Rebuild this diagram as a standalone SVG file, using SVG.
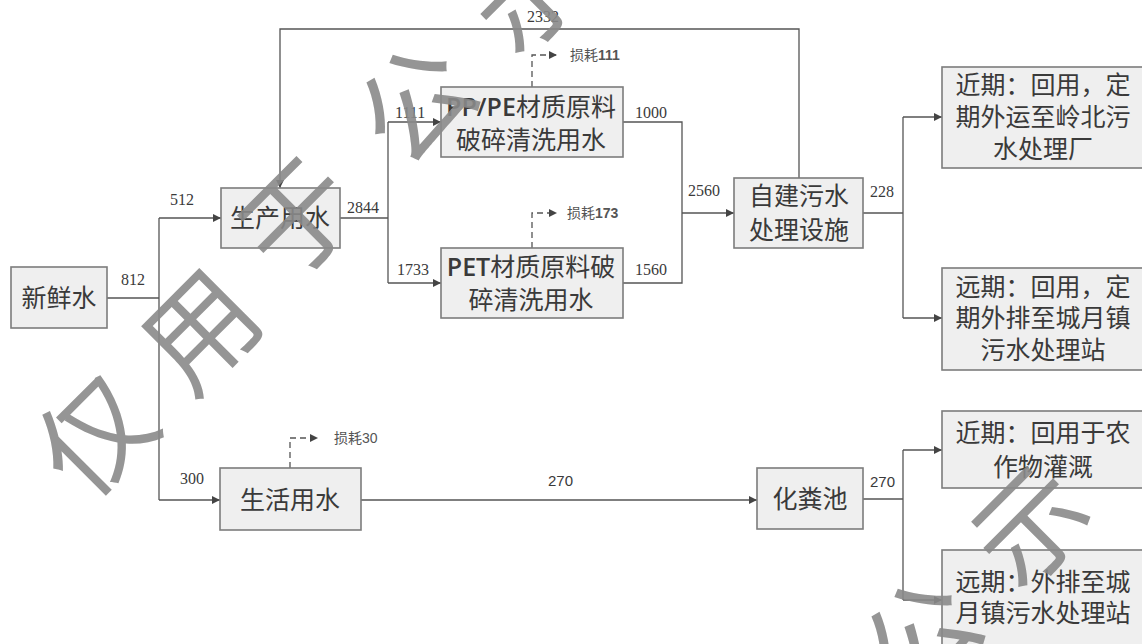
<svg xmlns="http://www.w3.org/2000/svg" width="1142" height="644" viewBox="0 0 1142 644">
<defs>
<style>
.box{fill:#efefef;stroke:#7c7c7c;stroke-width:1.6}
.t{font-family:"Liberation Serif","Noto Sans CJK SC",serif;font-size:25px;fill:#3a3a3a;text-anchor:middle}
.lat{font-family:"Open Sans","Liberation Sans",sans-serif;font-weight:600}
.n{font-family:"Liberation Serif",serif;font-size:16px;fill:#3a3a3a}
.ns{font-family:"Liberation Sans",sans-serif;font-size:15px;fill:#3a3a3a}
.loss{font-family:"Noto Sans CJK SC",sans-serif;font-size:14px;fill:#555}
.c{fill:none;stroke:#555;stroke-width:1.3}
.d{fill:none;stroke:#555;stroke-width:1.3;stroke-dasharray:6 4}
.wm{font-family:"Noto Sans CJK SC",sans-serif;font-size:112px;fill:#8a8a8a;fill-opacity:0.9;text-anchor:middle;dominant-baseline:central}
</style>
<marker id="ah" viewBox="0 0 10 10" refX="10" refY="5" markerWidth="9" markerHeight="8" markerUnits="userSpaceOnUse" orient="auto">
<path d="M0,0 L10,5 L0,10 z" fill="#444"/>
</marker>
</defs>
<rect width="1142" height="644" fill="#ffffff"/>

<g id="connectors">
<path class="c" d="M107,298 H159"/>
<path class="c" d="M159,218 V500"/>
<path class="c" d="M159,218 H221" marker-end="url(#ah)"/>
<path class="c" d="M159,500 H220" marker-end="url(#ah)"/>
<path class="c" d="M340,218 H388"/>
<path class="c" d="M388,122 V283"/>
<path class="c" d="M388,122 H441" marker-end="url(#ah)"/>
<path class="c" d="M388,283 H441" marker-end="url(#ah)"/>
<path class="c" d="M623,122 H682 V283 H623"/>
<path class="c" d="M682,213 H734" marker-end="url(#ah)"/>
<path class="c" d="M799,178 V29 H280 V188" marker-end="url(#ah)"/>
<path class="c" d="M863,213 H903"/>
<path class="c" d="M903,117 V318"/>
<path class="c" d="M903,117 H942" marker-end="url(#ah)"/>
<path class="c" d="M903,318 H942" marker-end="url(#ah)"/>
<path class="c" d="M361,500 H757" marker-end="url(#ah)"/>
<path class="c" d="M863,499 H903"/>
<path class="c" d="M903,450 V600"/>
<path class="c" d="M903,450 H942" marker-end="url(#ah)"/>
<path class="c" d="M903,600 H942" marker-end="url(#ah)"/>
<path class="d" d="M532,87 V55 H557" marker-end="url(#ah)"/>
<path class="d" d="M532,248 V213 H557" marker-end="url(#ah)"/>
<path class="d" d="M290,468 V438 H318" marker-end="url(#ah)"/>
<text class="n" x="121" y="285">812</text>
<text class="n" x="170" y="205">512</text>
<text class="n" x="527" y="22">2332</text>
<text class="n" x="347" y="213">2844</text>
<text class="n" x="395" y="118">1111</text>
<text class="n" x="635" y="118">1000</text>
<text class="n" x="397" y="275">1733</text>
<text class="n" x="635" y="275">1560</text>
<text class="n" x="688" y="196">2560</text>
<text class="n" x="870" y="197">228</text>
<text class="n" x="180" y="484">300</text>
<text class="ns" x="548" y="486">270</text>
<text class="ns" x="870" y="487">270</text>
<text class="loss" x="570" y="60">损耗<tspan font-family="Liberation Sans" font-weight="bold">111</tspan></text>
<text class="loss" x="567" y="218">损耗<tspan font-family="Liberation Sans" font-weight="bold">173</tspan></text>
<text class="loss" x="334" y="443">损耗<tspan font-family="Liberation Sans">30</tspan></text>
</g>

<g id="n-fresh"><rect class="box" x="11" y="267" width="96" height="61"/><text class="t" x="59" y="307">新鲜水</text></g>
<g id="n-prod"><rect class="box" x="221" y="188" width="119" height="60"/><text class="t" x="280" y="227">生产用水</text></g>
<g id="n-ppe"><rect class="box" x="441" y="87" width="182" height="70"/><text class="t" x="531" y="116"><tspan class="lat">PP/PE</tspan>材质原料</text><text class="t" x="531" y="149">破碎清洗用水</text></g>
<g id="n-pet"><rect class="box" x="441" y="248" width="182" height="70"/><text class="t" x="531" y="276"><tspan class="lat">PET</tspan>材质原料破</text><text class="t" x="531" y="309">碎清洗用水</text></g>
<g id="n-wwtp"><rect class="box" x="734" y="178" width="129" height="70"/><text class="t" x="799" y="205">自建污水</text><text class="t" x="799" y="239">处理设施</text></g>
<g id="n-near1"><rect class="box" x="942" y="67" width="210" height="101"/><text class="t" x="1043" y="94">近期：回用，定</text><text class="t" x="1043" y="126">期外运至岭北污</text><text class="t" x="1043" y="158">水处理厂</text></g>
<g id="n-far1"><rect class="box" x="942" y="268" width="210" height="102"/><text class="t" x="1043" y="296">远期：回用，定</text><text class="t" x="1043" y="327">期外排至城月镇</text><text class="t" x="1043" y="359">污水处理站</text></g>
<g id="n-dom"><rect class="box" x="220" y="468" width="141" height="62"/><text class="t" x="290" y="509">生活用水</text></g>
<g id="n-septic"><rect class="box" x="757" y="468" width="106" height="61"/><text class="t" x="810" y="508">化粪池</text></g>
<g id="n-near2"><rect class="box" x="942" y="411" width="210" height="77"/><text class="t" x="1043" y="442">近期：回用于农</text><text class="t" x="1043" y="476">作物灌溉</text></g>
<g id="n-far2"><rect class="box" x="942" y="550" width="210" height="100"/><text class="t" x="1043" y="591">远期：外排至城</text><text class="t" x="1043" y="622">月镇污水处理站</text></g>

<g id="watermark">
<text class="wm" transform="translate(90,430) rotate(-45)">仅</text>
<text class="wm" transform="translate(195,325) rotate(-45)">用</text>
<text class="wm" transform="translate(293,212) rotate(-45)">于</text>
<text class="wm" transform="translate(410,98) rotate(-45)">公</text>
<text class="wm" transform="translate(522,-14) rotate(-45)">示</text>
<text class="wm" transform="translate(915,632) rotate(-45)">公</text>
<text class="wm" transform="translate(1025,520) rotate(-45)">示</text>
</g>
</svg>
